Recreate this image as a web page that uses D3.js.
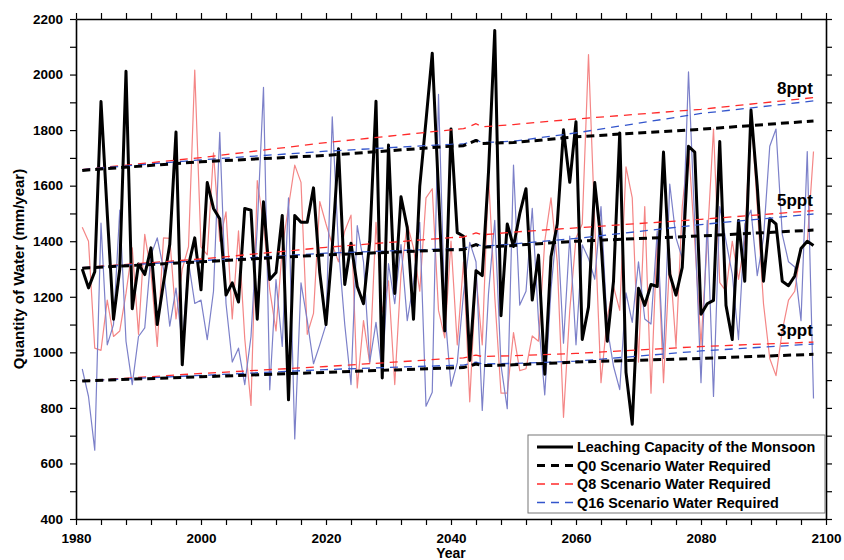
<!DOCTYPE html>
<html>
<head>
<meta charset="utf-8">
<script src="https://cdn.jsdelivr.net/npm/d3@7"></script>
<style>
  body { margin: 0; background: #fff; }
  text { font-family: "Liberation Sans", Arial, sans-serif; font-weight: bold; fill: #000; }
</style>
</head>
<body>
<div id="chart"></div>
<script>
(function () {
  "use strict";

  // yearly series, 1981 - 2098
  var firstYear = 1981,
    lastYear = 2098;

  var leaching = [1300, 1232, 1290, 1903, 1500, 1119, 1300, 2012, 1157, 1318,
    1280, 1376, 1100, 1250, 1388, 1793, 955, 1312, 1412, 1225,
    1611, 1518, 1481, 1206, 1250, 1181, 1518, 1512, 1119, 1542,
    1262, 1287, 1493, 829, 1493, 1468, 1468, 1592, 1287, 1100,
    1376, 1733, 1244, 1393, 1237, 1175, 1400, 1904, 908, 1746,
    1212, 1560, 1449, 1119, 1598, 1834, 2077, 1579, 1077, 1804,
    1431, 1418, 971, 1294, 1276, 1649, 2159, 1132, 1462, 1381,
    1499, 1589, 1188, 1350, 921, 1344, 1462, 1801, 1612, 1830,
    1046, 1163, 1611, 1400, 1040, 1256, 1790, 928, 741, 1231,
    1169, 1244, 1237, 1721, 1281, 1206, 1306, 1742, 1721, 1137,
    1175, 1187, 1759, 1169, 1046, 1475, 1256, 1872, 1598, 1256,
    1481, 1462, 1256, 1240, 1275, 1374, 1400, 1385];

  var leachingQ8 = [1450, 1400, 1015, 1007, 1188, 1057, 1077, 1212, 1376, 1065,
    1425, 1288, 1021, 1412, 1410, 1120, 1300, 1380, 2016, 1380,
    1351, 1718, 1400, 1506, 1120, 1437, 1050, 809, 1618, 1462,
    1225, 1077, 1376, 1525, 1674, 1612, 1065, 1140, 1543, 1462,
    1388, 1326, 1437, 1494, 872, 1114, 959, 1468, 1145, 1257,
    884, 1282, 1462, 1376, 1220, 1556, 1589, 1151, 1052, 1400,
    1027, 1326, 822, 1276, 1027, 1637, 1200, 853, 853, 1071,
    934, 941, 1059, 1040, 1400, 1556, 1326, 766, 1151, 1412,
    1462, 2072, 1462, 891, 1127, 1237, 1151, 1668, 1556, 965,
    1525, 853, 1425, 891, 1338, 1021, 1525, 1742, 1400, 1027,
    1400, 1804, 1251, 1220, 1400, 1263, 1400, 1873, 1525, 1175,
    978, 916, 1077, 1188, 1220, 1376, 1394, 1723];

  var leachingQ16 = [940, 841, 648, 1465, 1027, 1100, 1512, 1040, 884, 1057,
    1088, 1351, 1412, 1300, 1094, 1231, 1027, 1326, 1176, 1188,
    1046, 1220, 1792, 1176, 965, 1015, 884, 1057, 1450, 1954,
    865, 1262, 1021, 1556, 688, 1250, 1114, 959, 1027, 1100,
    1848, 1376, 1100, 884, 1456, 1326, 965, 1108, 922, 1319,
    1175, 1388, 1114, 1250, 1468, 806, 856, 1929, 1150, 878,
    962, 1211, 1396, 1326, 791, 1211, 1475, 953, 797, 1674,
    1170, 1220, 1518, 1114, 847, 1226, 1468, 1033, 1418, 1027,
    1387, 1338, 1263, 1525, 1089, 950, 866, 1214, 1108, 1326,
    1120, 1102, 1437, 978, 1606, 1412, 1338, 2010, 1462, 891,
    1475, 841, 1525, 1400, 1282, 1046, 1462, 1512, 1276, 1412,
    1742, 1804, 1425, 1326, 1307, 1114, 1723, 834];

  // water required (dashed), read at these years
  var reqYears = [1981, 2000, 2020, 2040, 2042, 2044, 2045, 2050, 2060, 2080, 2098];

  var q0_8ppt  = [1655, 1686, 1709, 1742, 1744, 1763, 1752, 1755, 1776, 1803, 1833];
  var q8_8ppt  = [1658, 1701, 1755, 1801, 1805, 1823, 1812, 1820, 1840, 1875, 1917];
  var q16_8ppt = [1658, 1693, 1724, 1749, 1750, 1765, 1755, 1760, 1790, 1860, 1905];

  var q0_5ppt  = [1303, 1326, 1351, 1369, 1370, 1388, 1378, 1385, 1400, 1419, 1440];
  var q8_5ppt  = [1305, 1336, 1378, 1413, 1415, 1430, 1423, 1433, 1448, 1479, 1510];
  var q16_5ppt = [1305, 1330, 1357, 1373, 1374, 1390, 1382, 1390, 1410, 1460, 1498];

  var q0_3ppt  = [897, 912, 928, 944, 945, 958, 952, 955, 965, 978, 993];
  var q8_3ppt  = [897, 924, 949, 978, 980, 990, 985, 988, 996, 1021, 1037];
  var q16_3ppt = [897, 917, 938, 953, 954, 965, 958, 960, 968, 1005, 1030];

  var levelLabels = ["8ppt", "5ppt", "3ppt"],
    levelLabelY = [1930, 1527, 1059];

  var legendLabels = ["Leaching Capacity of the Monsoon", "Q0 Scenario Water Required",
    "Q8 Scenario Water Required", "Q16 Scenario Water Required"];

  var xTicks = d3.range(1980, 2101, 4),
    yTicks = d3.range(400, 2201, 100);

  var w = 844, h = 560,
    left = 76, right = 826, top = 19, bottom = 519;

  var svg = d3.select("#chart").append("svg")
    .attr("width", w)
    .attr("height", h);

  var x = d3.scaleLinear().domain([1980, 2100]).range([left, right]);
  var y = d3.scaleLinear().domain([400, 2200]).range([bottom, top]);

  var years = d3.range(firstYear, lastYear + 1);

  function yearly(vals) {
    return vals.map(function (v, i) { return [years[i], v]; });
  }
  function required(vals) {
    return vals.map(function (v, i) { return [reqYears[i], v]; });
  }

  var line = d3.line()
    .x(function (d) { return x(d[0]); })
    .y(function (d) { return y(d[1]); });

  function drawLine(data, color, width, dash) {
    svg.append("path")
      .datum(data)
      .attr("fill", "none")
      .attr("stroke", color)
      .attr("stroke-width", width)
      .attr("stroke-linejoin", "round")
      .attr("stroke-dasharray", dash || null)
      .attr("d", line);
  }

  // thin yearly lines
  drawLine(yearly(leachingQ8), "#f48686", 1.2);
  drawLine(yearly(leachingQ16), "#7c80c9", 1.2);
  drawLine(yearly(leaching), "#000", 3);

  // dashed requirement lines
  [q8_8ppt, q8_5ppt, q8_3ppt].forEach(function (s) { drawLine(required(s), "#ff2a2a", 1.3, "8,6"); });
  [q16_8ppt, q16_5ppt, q16_3ppt].forEach(function (s) { drawLine(required(s), "#3355cc", 1.3, "8,6"); });
  [q0_8ppt, q0_5ppt, q0_3ppt].forEach(function (s) { drawLine(required(s), "#000", 3, "8,5"); });

  // axes
  function styleAxis(g) {
    g.select(".domain").attr("stroke-width", 1.6);
    g.selectAll(".tick line").attr("stroke-width", 1.2);
    g.selectAll(".tick text")
      .style("font-family", "'Liberation Sans', Arial, sans-serif")
      .style("font-weight", "bold")
      .style("font-size", "13.5px");
  }

  svg.append("g")
    .attr("transform", "translate(0," + bottom + ")")
    .call(d3.axisBottom(x).tickValues(xTicks).tickSize(6).tickSizeOuter(0).tickPadding(8)
      .tickFormat(function (d) { return d % 20 === 0 ? d : ""; }))
    .call(styleAxis);

  svg.append("g")
    .attr("transform", "translate(0," + top + ")")
    .call(d3.axisTop(x).tickValues(xTicks).tickSize(6).tickSizeOuter(0).tickFormat(""))
    .call(styleAxis);

  svg.append("g")
    .attr("transform", "translate(" + left + ",0)")
    .call(d3.axisLeft(y).tickValues(yTicks).tickSize(6).tickSizeOuter(0).tickPadding(7)
      .tickFormat(function (d) { return d % 200 === 0 ? d : ""; }))
    .call(styleAxis);

  svg.append("g")
    .attr("transform", "translate(" + right + ",0)")
    .call(d3.axisRight(y).tickValues(yTicks).tickSize(6).tickSizeOuter(0).tickFormat(""))
    .call(styleAxis);

  // axis titles
  svg.append("text")
    .attr("x", (left + right) / 2)
    .attr("y", 558)
    .attr("text-anchor", "middle")
    .style("font-size", "14px")
    .text("Year");

  svg.append("text")
    .attr("transform", "translate(24," + ((top + bottom) / 2) + ") rotate(-90)")
    .attr("text-anchor", "middle")
    .style("font-size", "15px")
    .text("Quantity of Water (mm/year)");

  // level labels
  svg.selectAll(".level")
    .data(levelLabels)
    .enter().append("text")
    .attr("class", "level")
    .attr("x", 777)
    .attr("y", function (d, i) { return y(levelLabelY[i]); })
    .style("font-size", "17px")
    .text(function (d) { return d; });

  // legend
  var lg = svg.append("g").attr("transform", "translate(528,435)");
  lg.append("rect")
    .attr("width", 297)
    .attr("height", 78)
    .attr("fill", "#fff")
    .attr("stroke", "#777")
    .attr("stroke-width", 1);

  var legendStyle = [
    { c: "#000", w: 3, d: null },
    { c: "#000", w: 3, d: "8,6" },
    { c: "#ff2a2a", w: 1.3, d: "8,6" },
    { c: "#3355cc", w: 1.3, d: "8,6" }
  ];

  legendLabels.forEach(function (lab, i) {
    var yy = 12 + i * 18.5;
    lg.append("line")
      .attr("x1", 9).attr("x2", 45)
      .attr("y1", yy).attr("y2", yy)
      .attr("stroke", legendStyle[i].c)
      .attr("stroke-width", legendStyle[i].w)
      .attr("stroke-dasharray", legendStyle[i].d);
    lg.append("text")
      .attr("x", 49)
      .attr("y", yy + 5)
      .style("font-size", "14.4px")
      .text(lab);
  });
})();
</script>
</body>
</html>
